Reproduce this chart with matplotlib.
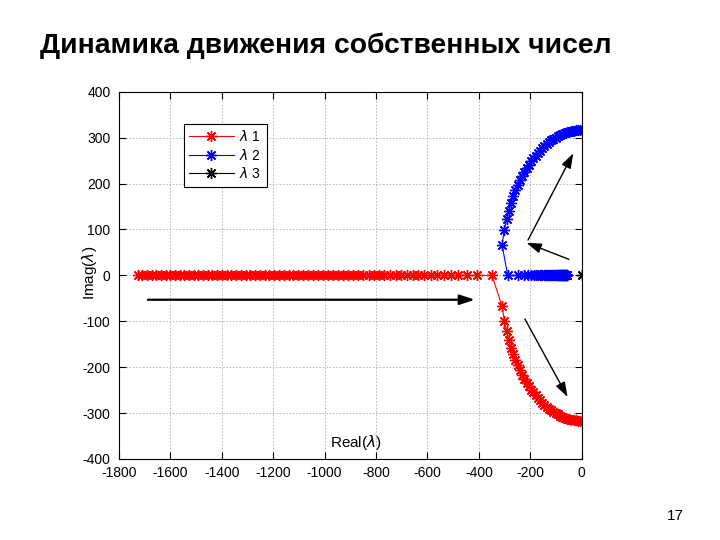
import matplotlib
matplotlib.use('Agg')
import matplotlib.pyplot as plt

# real eigenvalues (before the split)
lam1_re_real = [-1726, -1708, -1690, -1672, -1654, -1636, -1618, -1600, -1581, -1563,
                -1545, -1527, -1509, -1491, -1472, -1454, -1436, -1418, -1399, -1381,
                -1363, -1344, -1326, -1307, -1289, -1270, -1252, -1233, -1215, -1196,
                -1177, -1159, -1140, -1121, -1102, -1083, -1064, -1045, -1026, -1006,
                -987, -968, -948, -928, -909, -889, -869, -849, -829, -808,
                -787, -767, -745, -724, -702, -680, -658, -635, -612, -588,
                -563, -537, -509, -480, -447, -408, -349]
lam2_re_real = [-58, -59, -59, -60, -61, -61, -62, -63, -64, -64,
                -65, -66, -67, -67, -68, -69, -70, -71, -72, -73,
                -74, -75, -76, -77, -78, -79, -80, -81, -83, -84,
                -85, -87, -88, -90, -91, -93, -94, -96, -98, -100,
                -102, -104, -106, -108, -111, -113, -116, -118, -121, -124,
                -128, -131, -135, -139, -143, -148, -153, -158, -164, -171,
                -179, -187, -197, -210, -225, -246, -288]

# complex pair (after the split): real part and |imag part|
cplx_re = [-310, -301, -292, -284, -275, -266, -258, -249, -240, -232,
           -223, -214, -205, -197, -188, -179, -171, -162, -153, -145,
           -136, -127, -119, -110, -101, -93, -84, -75, -66, -58,
           -49, -40, -32, -23, -14, -6]
cplx_im = [67, 99, 122, 141, 158, 172, 185, 196, 207, 216,
           225, 234, 241, 249, 255, 261, 267, 272, 277, 282,
           286, 290, 294, 297, 300, 303, 306, 308, 310, 312,
           313, 314, 315, 316, 317, 317]

lam3_re = [0]
lam3_im = [0]

xticks = [-1800, -1600, -1400, -1200, -1000, -800, -600, -400, -200, 0]
yticks = [-400, -300, -200, -100, 0, 100, 200, 300, 400]

# annotation arrows: (x_from, y_from, x_to, y_to, width)
arrows = [(-1687, -53, -416, -53, 1.6),
          (-50, 35, -215, 71, 1.0),
          (-209, 77, -33, 266, 1.0),
          (-221, -95, -55, -265, 1.0)]

lam1_x = lam1_re_real + cplx_re
lam1_y = [0] * len(lam1_re_real) + [-v for v in cplx_im]
lam2_x = lam2_re_real + cplx_re
lam2_y = [0] * len(lam2_re_real) + cplx_im

plt.rcParams['font.family'] = ['Liberation Sans', 'DejaVu Sans']
plt.rcParams['axes.unicode_minus'] = False

fig = plt.figure(figsize=(7.2, 5.4), dpi=100)
ax = fig.add_axes([0.165, 0.15, 0.643, 0.68])

star = (8, 2, 0)
ax.plot(lam1_x, lam1_y, color='#ff0000', lw=0.8, marker=star, ms=8, mew=1.0, label=r'$\lambda$ 1')
ax.plot(lam2_x, lam2_y, color='#0000ff', lw=0.8, marker=star, ms=8, mew=1.0, label=r'$\lambda$ 2')
ax.plot(lam3_re, lam3_im, color='black', lw=0.8, marker=star, ms=8, mew=1.0, label=r'$\lambda$ 3')

for x0, y0, x1, y1, w in arrows:
    ax.annotate('', xy=(x1, y1), xytext=(x0, y0),
                arrowprops=dict(arrowstyle='-|>,head_length=0.9,head_width=0.3',
                                color='black', lw=w, shrinkA=0, shrinkB=0))

ax.set_xlim(-1800, 0)
ax.set_ylim(-400, 400)
ax.set_xticks(xticks)
ax.set_yticks(yticks)
ax.tick_params(direction='in', top=True, right=True, length=5, labelsize=10, width=0.8)
ax.tick_params(axis='x', pad=5)
ax.tick_params(axis='y', pad=6)
ax.grid(True, color='#b0b0b0', linestyle=(0, (2, 2)), lw=0.6)
ax.set_axisbelow(True)
for s in ax.spines.values():
    s.set_linewidth(0.8)

ax.text(0.512, 0.044, r'Real($\lambda$)', transform=ax.transAxes, ha='center', va='center', fontsize=11)
ax.text(-0.063, 0.507, r'Imag($\lambda$)', transform=ax.transAxes, ha='center', va='center',
        rotation=90, fontsize=11)

leg = ax.legend(loc='upper left', bbox_to_anchor=(0.14, 0.913), borderaxespad=0,
                fancybox=False, edgecolor='black', framealpha=1, fontsize=10,
                handlelength=3.2, borderpad=0.4, labelspacing=0.25, handletextpad=0.4)
leg.get_frame().set_linewidth(0.8)

fig.text(0.055, 0.915, 'Динамика движения собственных чисел', fontsize=20.3, fontweight='bold',
         ha='left', va='center')
fig.text(0.938, 0.045, '17', fontsize=11, ha='center', va='center')

fig.savefig('out.png', dpi=100)
